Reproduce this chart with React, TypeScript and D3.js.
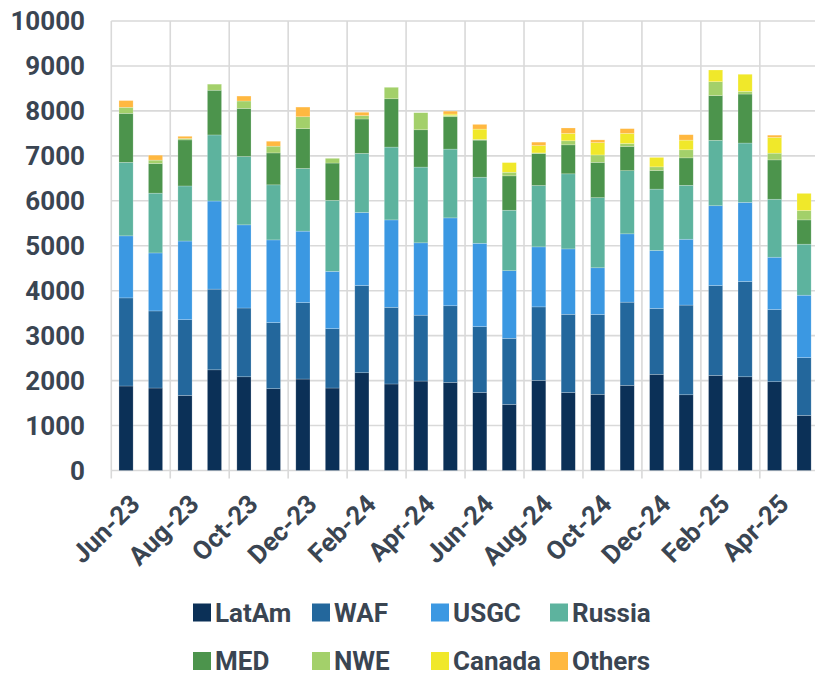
import React from "react";
import * as d3 from "d3";

const months = [
  "Jun-23","Jul-23","Aug-23","Sep-23","Oct-23","Nov-23","Dec-23","Jan-24",
  "Feb-24","Mar-24","Apr-24","May-24","Jun-24","Jul-24","Aug-24","Sep-24",
  "Oct-24","Nov-24","Dec-24","Jan-25","Feb-25","Mar-25","Apr-25","May-25",
];
const seriesNames = ["LatAm","WAF","USGC","Russia","MED","NWE","Canada","Others"];
const seriesColors = ["#0b3057","#23679c","#3b98e2","#5db39e","#4c944c","#a3d06a","#f0e82a","#ffb840"];

const latam = [1880,1835,1670,2240,2085,1820,2035,1835,2175,1925,1990,1960,1735,1470,2005,1735,1695,1895,2140,1685,2115,2085,1975,1225];
const waf = [1960,1715,1685,1795,1530,1470,1700,1320,1940,1705,1465,1705,1465,1470,1635,1740,1775,1850,1465,1995,2000,2120,1605,1285];
const usgc = [1380,1290,1750,1960,1850,1840,1590,1275,1625,1945,1610,1955,1855,1505,1335,1455,1040,1520,1290,1465,1775,1760,1165,1390];
const russia = [1635,1330,1225,1470,1520,1225,1395,1580,1315,1620,1685,1530,1470,1345,1365,1670,1560,1405,1365,1200,1455,1320,1290,1135];
const med = [1090,660,1025,995,1070,710,885,830,765,1075,830,720,825,765,710,645,785,540,415,610,995,1090,875,540];
const nwe = [135,75,30,135,165,150,265,105,75,255,380,30,15,80,15,90,165,65,80,180,310,60,150,210];
const canada = [0,0,0,0,0,0,0,0,0,0,0,30,230,215,165,165,275,225,210,215,260,380,350,380];
const others = [150,110,50,0,110,110,215,0,75,0,0,65,105,0,75,120,60,105,0,120,0,0,50,0];

const yTicks = [0,1000,2000,3000,4000,5000,6000,7000,8000,9000,10000];

const W = 815, H = 673;
const textColor = "#3a4552";
const font = "Roboto, 'Noto Sans', sans-serif";
const fs = 26;

export default function App() {
  const seriesValues = [latam, waf, usgc, russia, med, nwe, canada, others];
  const rows = months.map((m, i) => {
    const r: any = { month: m };
    seriesNames.forEach((s, k) => (r[s] = seriesValues[k][i]));
    return r;
  });
  const stack = d3.stack().keys(seriesNames)(rows as any);

  const x = d3.scaleBand().domain(months).range([111.3, 818.8]).paddingInner(0.52).paddingOuter(0.26);
  const y = d3.scaleLinear().domain([0, 10000]).range([470.5, 21]);
  const step = x.step();
  const left = 111.3;

  const vLines = months.map((_, i) => i).filter((i) => i % 2 === 0);

  return (
    <svg width={W} height={H} style={{ position: "absolute", left: 0, top: 0, background: "#fff" }}>
      {yTicks.map((t) => (
        <line key={"h" + t} x1={left} x2={W} y1={y(t)} y2={y(t)} stroke="#d9d9d9" strokeWidth={1.6} />
      ))}
      {vLines.map((i) => (
        <line key={"v" + i} x1={left + i * step} x2={left + i * step} y1={y(10000)} y2={y(0) + 8} stroke="#d9d9d9" strokeWidth={1.6} />
      ))}
      {stack.map((layer, k) => (
        <g key={seriesNames[k]} fill={seriesColors[k]}>
          {layer.map((d: any, i: number) =>
            d[1] - d[0] > 0 ? (
              <rect
                key={i}
                x={x(months[i])}
                width={x.bandwidth()}
                y={y(d[1])}
                height={y(d[0]) - y(d[1])}
                stroke="rgba(255,255,255,0.35)"
                strokeWidth={0.6}
              />
            ) : null
          )}
        </g>
      ))}
      {yTicks.map((t) => (
        <text key={"yl" + t} x={85} y={y(t)} dy="0.36em" textAnchor="end" fontFamily={font} fontWeight={700} fontSize={fs} fill={textColor}>
          {t}
        </text>
      ))}
      {months.map((m, i) =>
        i % 2 === 0 ? (
          <text
            key={"xl" + m}
            transform={`translate(${(x(m) as number) + x.bandwidth() / 2 + 9},${499}) rotate(-45)`}
            textAnchor="end"
            dy="0.36em"
            fontFamily={font}
            fontWeight={700}
            fontSize={fs}
            fill={textColor}
          >
            {m}
          </text>
        ) : null
      )}
      {seriesNames.map((s, k) => {
        const col = k % 4;
        const row = Math.floor(k / 4);
        const lx = 193 + col * 119;
        const ly = 612.5 + row * 48.5;
        return (
          <g key={"lg" + s}>
            <rect x={lx} y={ly - 9} width={18} height={18} fill={seriesColors[k]} />
            <text x={lx + 22} y={ly} dy="0.36em" fontFamily={font} fontWeight={700} fontSize={fs} fill={textColor}>
              {s}
            </text>
          </g>
        );
      })}
    </svg>
  );
}
